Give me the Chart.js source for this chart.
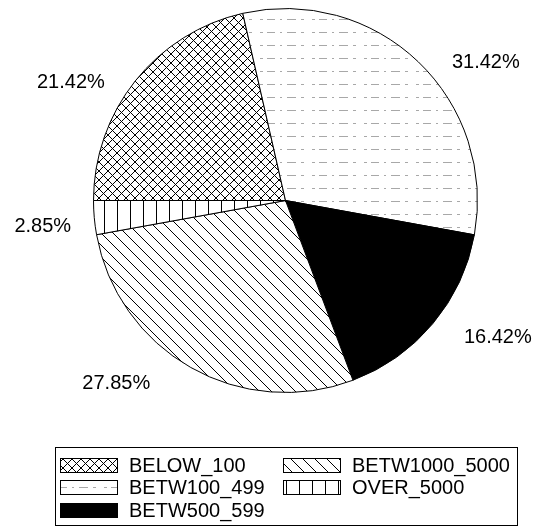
<!DOCTYPE html>
<html><head><meta charset="utf-8">
<script src="https://cdn.jsdelivr.net/npm/chart.js@4/dist/chart.umd.min.js"></script>
<style>html,body{margin:0;padding:0;background:#fff;} canvas{display:block}</style>
</head><body>
<canvas id="c" width="543" height="527"></canvas>
<script>
const categories = ['BELOW_100', 'BETW100_499', 'BETW500_599', 'BETW1000_5000', 'OVER_5000'];
const percentages = [21.42, 31.42, 16.42, 27.85, 2.85];
const percentLabels = ['21.42%', '31.42%', '16.42%', '27.85%', '2.85%'];
const patternKinds = ['cross', 'hdots', 'solid', 'diag', 'vert'];

function makePattern(kind) {
  if (kind === 'solid') return '#000';
  const c = document.createElement('canvas');
  const ctx = c.getContext('2d');
  let w, h;
  if (kind === 'cross') { w = h = 9; }
  else if (kind === 'diag') { w = h = 12; }
  else if (kind === 'vert') { w = 13; h = 13; }
  else { w = 52; h = 13; }
  c.width = w; c.height = h;
  ctx.fillStyle = '#fff'; ctx.fillRect(0, 0, w, h);
  ctx.lineWidth = 1;
  ctx.strokeStyle = '#000';
  ctx.beginPath();
  if (kind === 'cross' || kind === 'diag') {
    for (let k = -1; k <= 1; k++) {
      ctx.moveTo(k * w, 0); ctx.lineTo(k * w + w, h);
      if (kind === 'cross') { ctx.moveTo(k * w + w, 0); ctx.lineTo(k * w, h); }
    }
    ctx.stroke();
  } else if (kind === 'vert') {
    ctx.moveTo(0.5, 0); ctx.lineTo(0.5, h); ctx.stroke();
  } else {
    ctx.strokeStyle = '#a8a8a8';
    const segs = [[0, 3], [7, 15], [20, 22], [27, 36], [41, 44]];
    segs.forEach(s => { ctx.moveTo(s[0], 6.5); ctx.lineTo(s[1], 6.5); });
    ctx.stroke();
  }
  const pctx = document.createElement('canvas').getContext('2d');
  return pctx.createPattern(c, 'repeat');
}

const fills = patternKinds.map(makePattern);

const pieLabels = {
  id: 'pieLabels',
  afterDatasetsDraw(chart) {
    const ctx = chart.ctx;
    const meta = chart.getDatasetMeta(0);
    ctx.save();
    ctx.font = '20px "Liberation Sans", Arial, sans-serif';
    ctx.fillStyle = '#000';
    ctx.textBaseline = 'middle';
    meta.data.forEach((arc, i) => {
      const p = arc.getProps(['x', 'y', 'startAngle', 'endAngle', 'outerRadius'], true);
      const r = p.outerRadius;
      const mid = (p.startAngle + p.endAngle) / 2;
      const ux = Math.cos(mid), uy = Math.sin(mid);
      const x = p.x + ux * r * 0.82 + Math.sign(ux) * r * 0.30;
      const y = p.y + uy * r * 1.05 + r * 0.04;
      ctx.textAlign = ux < 0 ? 'right' : 'left';
      ctx.fillText(percentLabels[i], x, y);
    });
    ctx.restore();
  }
};

const boxLegend = {
  id: 'boxLegend',
  afterDraw(chart) {
    const ctx = chart.ctx;
    ctx.save();
    ctx.strokeStyle = '#000';
    ctx.lineWidth = 1;
    ctx.strokeRect(55.5, 447.5, 462, 78);
    ctx.font = '20px "Liberation Sans", Arial, sans-serif';
    ctx.textBaseline = 'middle';
    ctx.textAlign = 'left';
    const colX = [60, 283];
    categories.forEach((name, i) => {
      const col = Math.floor(i / 3), row = i % 3;
      const sx = colX[col];
      const cy = 465 + row * 22.5;
      const sy = Math.round(cy - 7.5);
      ctx.fillStyle = fills[i];
      ctx.fillRect(sx, sy, 58, 15);
      ctx.strokeStyle = '#000';
      ctx.strokeRect(sx + 0.5, sy + 0.5, 57, 14);
      ctx.fillStyle = '#000';
      ctx.fillText(name, sx + 69, cy + 1);
    });
    ctx.restore();
  }
};

new Chart(document.getElementById('c'), {
  type: 'pie',
  data: {
    labels: categories,
    datasets: [{
      data: percentages,
      backgroundColor: fills,
      borderColor: '#000',
      borderWidth: 1
    }]
  },
  options: {
    responsive: false,
    animation: false,
    events: [],
    rotation: 270,
    layout: { padding: { left: 93, right: 65, top: 8, bottom: 134 } },
    plugins: { legend: { display: false }, tooltip: { enabled: false } }
  },
  plugins: [pieLabels, boxLegend]
});
</script>
</body></html>
